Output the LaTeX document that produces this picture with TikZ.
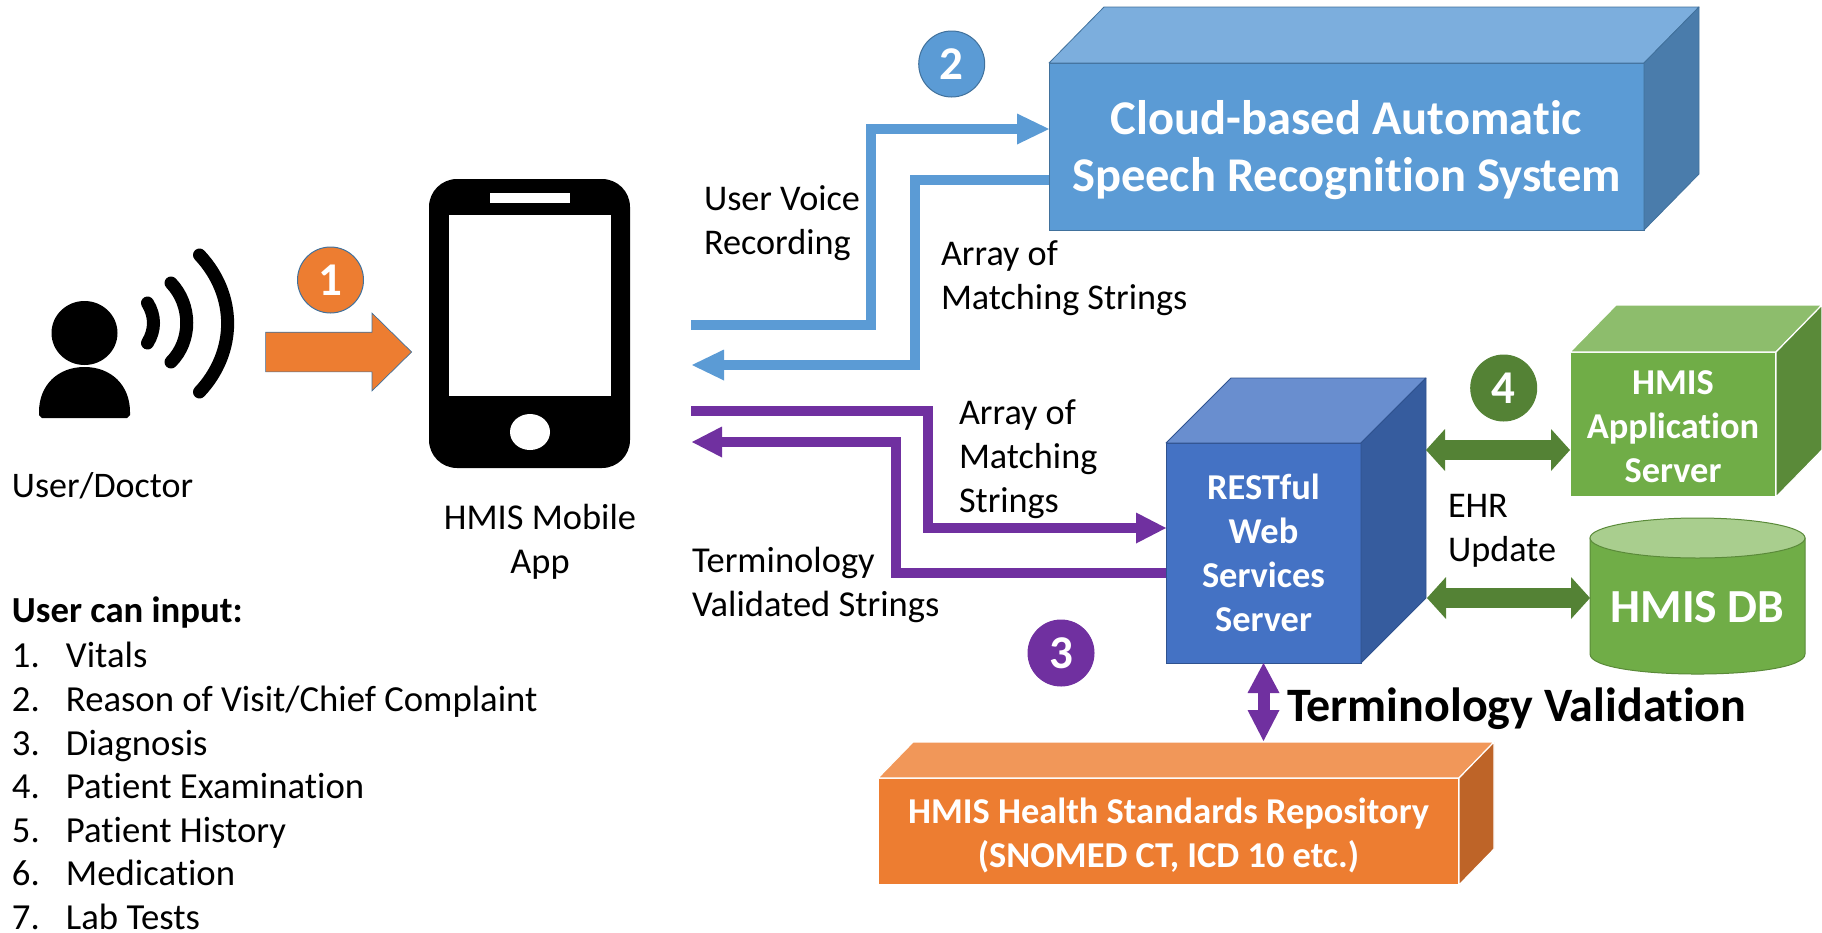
\documentclass[tikz,border=0pt]{standalone}
\usepackage{fontspec}
\setmainfont{Carlito}[Ligatures=NoCommon]
\usetikzlibrary{arrows.meta,shapes.arrows,shapes.geometric}
\definecolor{cBlue}{HTML}{5B9BD5}
\definecolor{cBlueTop}{HTML}{7CAEDD}
\definecolor{cBlueSide}{HTML}{4A7CAB}
\definecolor{cBlueEdge}{HTML}{41719C}
\definecolor{cRest}{HTML}{4472C4}
\definecolor{cRestTop}{HTML}{698ECF}
\definecolor{cRestSide}{HTML}{365C9E}
\definecolor{cRestEdge}{HTML}{2F528F}
\definecolor{cGreen}{HTML}{70AD47}
\definecolor{cGreenTop}{HTML}{8DBD6C}
\definecolor{cGreenSide}{HTML}{5A8A39}
\definecolor{cGreenDark}{HTML}{548235}
\definecolor{cGreenLight}{HTML}{A9CE8E}
\definecolor{cOrange}{HTML}{ED7D31}
\definecolor{cOrangeTop}{HTML}{F19759}
\definecolor{cOrangeSide}{HTML}{BE6428}
\definecolor{cPurple}{HTML}{7030A0}
\newcommand{\cubefaces}[7]{%
  \filldraw[fill=#4,draw=#6,line width=#7,line join=round] (#1.north west) -- ([shift={(#2,-#3)}]#1.north west) -- ([shift={(#2,-#3)}]#1.north east) -- (#1.north east) -- cycle;
  \filldraw[fill=#5,draw=#6,line width=#7,line join=round] (#1.north east) -- ([shift={(#2,-#3)}]#1.north east) -- ([shift={(#2,-#3)}]#1.south east) -- (#1.south east) -- cycle;
}
\tikzset{
  x=1pt,y=-1pt,
  every node/.style={inner sep=0pt,outer sep=0pt},
  face/.style={anchor=north west},
  facetext/.style={align=center,text=white,font=\fontsize{36.4}{44}\selectfont\bfseries},
  lab/.style={align=left,anchor=west,font=\fontsize{36.2}{44}\selectfont},
  badge/.style={circle,minimum size=66pt,text=white,font=\fontsize{47}{50}\selectfont\bfseries,line width=1pt},
  bluearrow/.style={draw=cBlue,line width=10.5pt,-{Triangle[length=32pt,width=31pt,line width=0pt]}},
  purplearrow/.style={draw=cPurple,line width=10.5pt,-{Triangle[length=30pt,width=31pt,line width=0pt]}},
  greenarrow/.style={draw=cGreenDark,line width=20pt,{Triangle[length=19pt,width=42pt,line width=0pt]}-{Triangle[length=19pt,width=42pt,line width=0pt]}},
  valarrow/.style={draw=cPurple,line width=12pt,{Triangle[length=30pt,width=32pt,line width=0pt]}-{Triangle[length=31pt,width=32pt,line width=0pt]}},
}
\begin{document}
\begin{tikzpicture}
\useasboundingbox (0,0) rectangle (1822,932);
% user icon
\fill (84.5,333) ellipse [x radius=33,y radius=32];
\fill (39,412) .. controls (39,385) and (58,367) .. (84.5,367) .. controls (111,367) and (130,385) .. (130,412) -- (130,415) -- (127,418) -- (42,418) -- (39,415) -- cycle;
\draw[line width=13pt,line cap=round] (147.5,303) .. controls (155.5,316) and (155.5,330) .. (147.5,343);
\draw[line width=13pt,line cap=round] (171,283) .. controls (192,305) and (192,341) .. (171,362);
\draw[line width=13pt,line cap=round] (199.5,255) .. controls (237,295) and (237,352) .. (199.5,392);
\node[lab,font=\fontsize{36}{44}\selectfont] (user) at (12,486) {User/Doctor};
% phone
\node[fill=black,rounded corners=28pt,minimum width=201pt,minimum height=289pt,anchor=north west] (phone) at (429,179) {};
\node[fill=white,minimum width=162pt,minimum height=181pt,anchor=north west] (screen) at (449,215) {};
\node[fill=white,minimum width=80pt,minimum height=9.5pt,anchor=north west] (speaker) at (490,193) {};
\node[fill=white,ellipse,minimum width=40pt,minimum height=36pt] (homebtn) at (530,432) {};
\node[align=center,font=\fontsize{36.4}{44}\selectfont] (applabel) at (540,542) {HMIS Mobile\\App};
% arrow 1
\node[single arrow,fill=cOrange,draw=cBlueEdge,line width=0.7pt,inner ysep=19.5pt,inner xsep=0pt,minimum height=146pt,single arrow head extend=19pt,single arrow tip angle=89,single arrow head indent=0pt] (inarrow) at (328.5,352) {};
\node[badge,fill=cOrange,draw=cBlueEdge] (b1) at (330.5,280) {1};
% cloud
\node[face,fill=cBlue,draw=cBlueEdge,line width=1pt,minimum width=595pt,minimum height=167pt] (cloud) at (1049,63) {};
\cubefaces{cloud}{55}{56}{cBlueTop}{cBlueSide}{cBlueEdge}{0.8pt}
\node[facetext,font=\fontsize{48.5}{57}\selectfont\bfseries] (cloudtext) at ([yshift=-4pt]cloud.center) {Cloud-based Automatic\\Speech Recognition System};
\node[badge,fill=cBlue,draw=cBlueEdge] (b2) at (951.7,64) {2};
\coordinate (voiceStart) at (691,325);
\coordinate (voiceBend) at (871,129);
\coordinate (matchEnd) at (692,365);
\coordinate (matchBend) at (915,180);
\draw[bluearrow] (voiceStart) -| (voiceBend) -- (cloud.west |- voiceBend);
\draw[bluearrow] (cloud.west |- matchBend) -| (matchEnd -| matchBend) -- (matchEnd);
\node[lab] (voicelabel) at (704,223.5) {User Voice\\Recording};
\node[lab] (arr1label) at (941,278) {Array of\\Matching Strings};
% REST
\node[face,fill=cRest,draw=cRestEdge,line width=1pt,minimum width=195pt,minimum height=220pt] (rest) at (1166,443) {};
\cubefaces{rest}{65}{65}{cRestTop}{cRestSide}{cRestEdge}{0.8pt}
\node[facetext] (resttext) at (rest.center) {RESTful\\Web\\Services\\Server};
\coordinate (arrStart) at (691,411);
\coordinate (arrBend) at (928,528);
\coordinate (termEnd) at (692,442);
\coordinate (termBend) at (896,573);
\draw[purplearrow] (arrStart) -| (arrBend) -- (rest.west |- arrBend);
\draw[purplearrow] (rest.west |- termBend) -| (termEnd -| termBend) -- (termEnd);
\node[lab] (arr2label) at (959,459) {Array of\\Matching\\Strings};
\node[lab,font=\fontsize{36.5}{44}\selectfont] (termlabel) at (692,585) {Terminology\\Validated Strings};
\node[badge,fill=cPurple,draw=cPurple] (b3) at (1061,653) {3};
% application server
\node[face,fill=cGreen,draw=white,line width=1.5pt,minimum width=206pt,minimum height=145pt] (app) at (1570,352) {};
\cubefaces{app}{46}{47}{cGreenTop}{cGreenSide}{white}{1.2pt}
\node[facetext] (apptext) at ([yshift=-2.3pt]app.center) {HMIS\\Application\\Server};
\node[badge,fill=cGreenDark,draw=cGreenDark] (b4) at (1503.7,388) {4};
% database
\filldraw[fill=cGreen,draw=cGreenSide,line width=1pt] (1590,538) -- (1590,654) .. controls (1590,680.7) and (1805,680.7) .. (1805,654) -- (1805,538) -- cycle;
\filldraw[fill=cGreenLight,draw=cGreenSide,line width=1pt] (1697.5,538) ellipse [x radius=107.5,y radius=20];
\node[text=white,minimum width=215pt,minimum height=156pt,font=\fontsize{47.5}{50}\selectfont\bfseries] (db) at (1697.5,607) {HMIS DB};
\coordinate (restA) at (1426,450);
\coordinate (restB) at (1427,598);
\draw[greenarrow] (restA) -- (app.west |- restA);
\draw[greenarrow] (restB) -- (db.west |- restB);
\node[lab] (ehr) at (1448,530.5) {EHR\\Update};
% repository
\node[face,fill=cOrange,draw=white,line width=1.5pt,minimum width=581pt,minimum height=107pt] (repo) at (878,778) {};
\cubefaces{repo}{35}{36}{cOrangeTop}{cOrangeSide}{white}{1.2pt}
\node[facetext] (repotext) at ([yshift=-3.5pt]repo.center) {HMIS Health Standards Repository\\(SNOMED CT, ICD 10 etc.)};
\coordinate (repoTop) at (1263.5,741);
\draw[valarrow] (rest.south) -- (repoTop);
\node[lab,font=\fontsize{48}{50}\selectfont\bfseries] (valid) at (1287,708.5) {Terminology Validation};
% list
\node[anchor=north west,align=left,font=\fontsize{36.7}{43.6}\selectfont] (inputs) at (12,597) {\textbf{User can input:}\\[1.5pt]
\makebox[54pt][l]{1.}Vitals\\
\makebox[54pt][l]{2.}Reason of Visit/Chief Complaint\\
\makebox[54pt][l]{3.}Diagnosis\\
\makebox[54pt][l]{4.}Patient Examination\\
\makebox[54pt][l]{5.}Patient History\\
\makebox[54pt][l]{6.}Medication\\
\makebox[54pt][l]{7.}Lab Tests};
\end{tikzpicture}
\end{document}
